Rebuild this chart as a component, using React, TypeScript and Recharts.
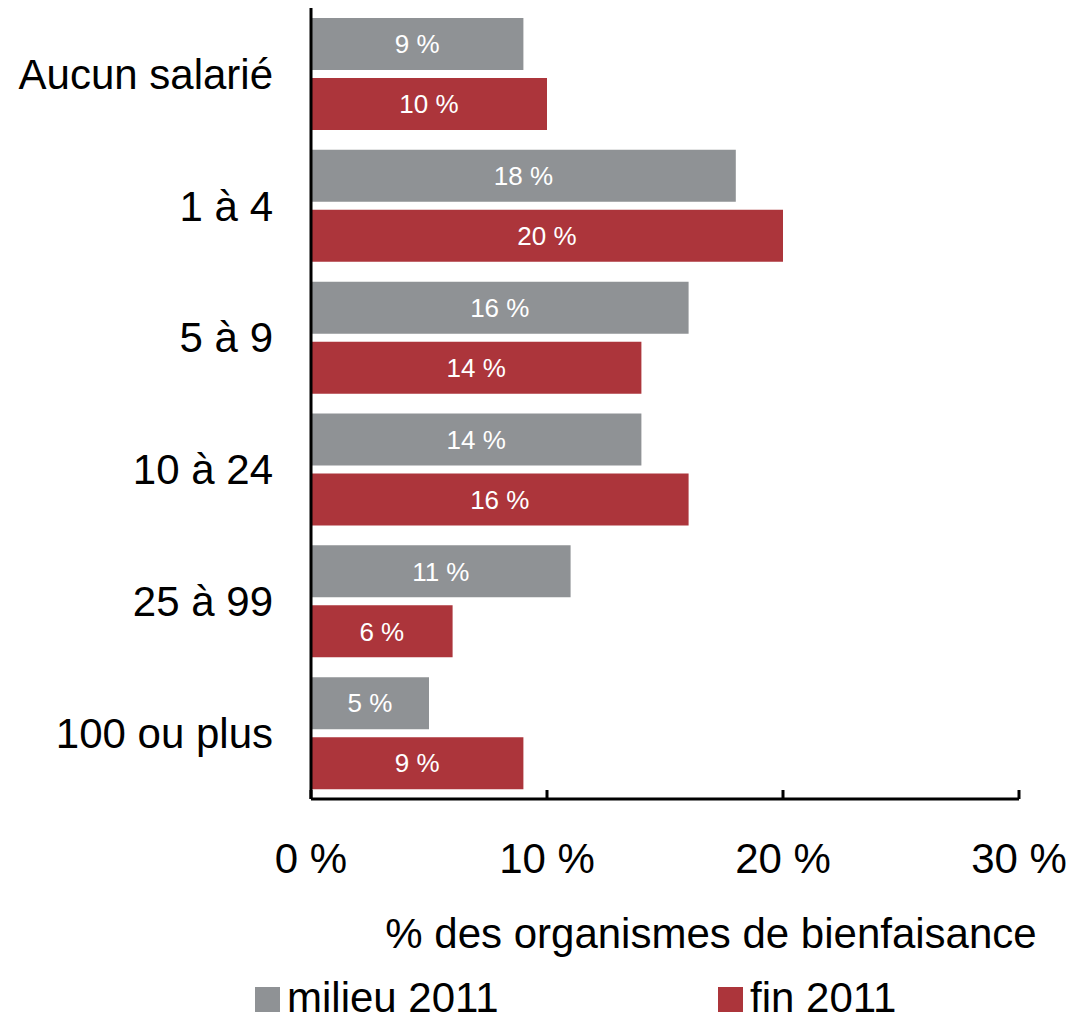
import React from 'react';
import { BarChart, Bar, XAxis, YAxis, LabelList, Legend } from 'recharts';

const categories = ['Aucun salarié', '1 à 4', '5 à 9', '10 à 24', '25 à 99', '100 ou plus'];
const milieu2011 = [9, 18, 16, 14, 11, 5];
const fin2011 = [10, 20, 14, 16, 6, 9];
const seriesNames = ['milieu 2011', 'fin 2011'];
const xTicks = [0, 10, 20, 30];

const GRAY = '#8f9295';
const RED = '#ac353b';
const FONT = '"Liberation Sans", Arial, sans-serif';

const data = categories.map((name, i) => ({ name, milieu: milieu2011[i], fin: fin2011[i] }));

// legend squares sit at fixed x spots like the original
const legendX = [255, 718];

const CustomLegend = ({ payload }: any) => {
  // vertical layout flips the payload order, so put it back by series name
  const items = seriesNames
    .map(n => (payload || []).find((p: any) => p.value === n))
    .filter(Boolean);
  return (
    <div style={{ position: 'relative', width: 1082, height: 50, fontFamily: FONT, fontSize: 42 }}>
      {items.map((p: any, i: number) => (
        <div key={p.value} style={{ position: 'absolute', left: legendX[i], top: 0, display: 'flex', alignItems: 'center', lineHeight: '46px' }}>
          <span style={{ display: 'inline-block', width: 25, height: 25, background: p.color, marginRight: 7, marginTop: 2 }} />
          <span style={{ color: '#000' }}>{p.value}</span>
        </div>
      ))}
    </div>
  );
};

export default function App() {
  return (
    <div style={{ position: 'absolute', left: 0, top: 0, fontFamily: FONT }}>
      <BarChart
        width={1082}
        height={1021}
        data={data}
        layout="vertical"
        margin={{ top: 8, right: 63, bottom: 68, left: 0 }}
        barCategoryGap={10}
        barGap={8}
      >
        <XAxis
          type="number"
          domain={[0, 30]}
          ticks={xTicks}
          tickFormatter={(v: number) => `${v} %`}
          axisLine={{ stroke: '#000', strokeWidth: 3 }}
          tickLine={{ stroke: '#000', strokeWidth: 3 }}
          tickSize={-9}
          tickMargin={53}
          tick={{ fill: '#000', fontSize: 42, fontFamily: FONT }}
          height={154}
          label={{
            value: '% des organismes de bienfaisance',
            position: 'insideBottom',
            offset: 5,
            dx: 46,
            fill: '#000',
            fontSize: 42,
            fontFamily: FONT,
          }}
        />
        <YAxis
          type="category"
          dataKey="name"
          width={311}
          axisLine={{ stroke: '#000', strokeWidth: 3 }}
          tickLine={false}
          tickSize={0}
          tickMargin={38}
          tick={{ fill: '#000', fontSize: 42, fontFamily: FONT }}
        />
        <Legend
          layout="horizontal"
          verticalAlign="middle"
          align="center"
          wrapperStyle={{ top: 975, left: 0, width: 1082 }}
          content={<CustomLegend />}
        />
        <Bar dataKey="milieu" name="milieu 2011" fill={GRAY} isAnimationActive={false}>
          <LabelList dataKey="milieu" position="center" fill="#fff" fontSize={26} fontFamily={FONT} formatter={(v: any) => `${v} %`} />
        </Bar>
        <Bar dataKey="fin" name="fin 2011" fill={RED} isAnimationActive={false}>
          <LabelList dataKey="fin" position="center" fill="#fff" fontSize={26} fontFamily={FONT} formatter={(v: any) => `${v} %`} />
        </Bar>
      </BarChart>
    </div>
  );
}
